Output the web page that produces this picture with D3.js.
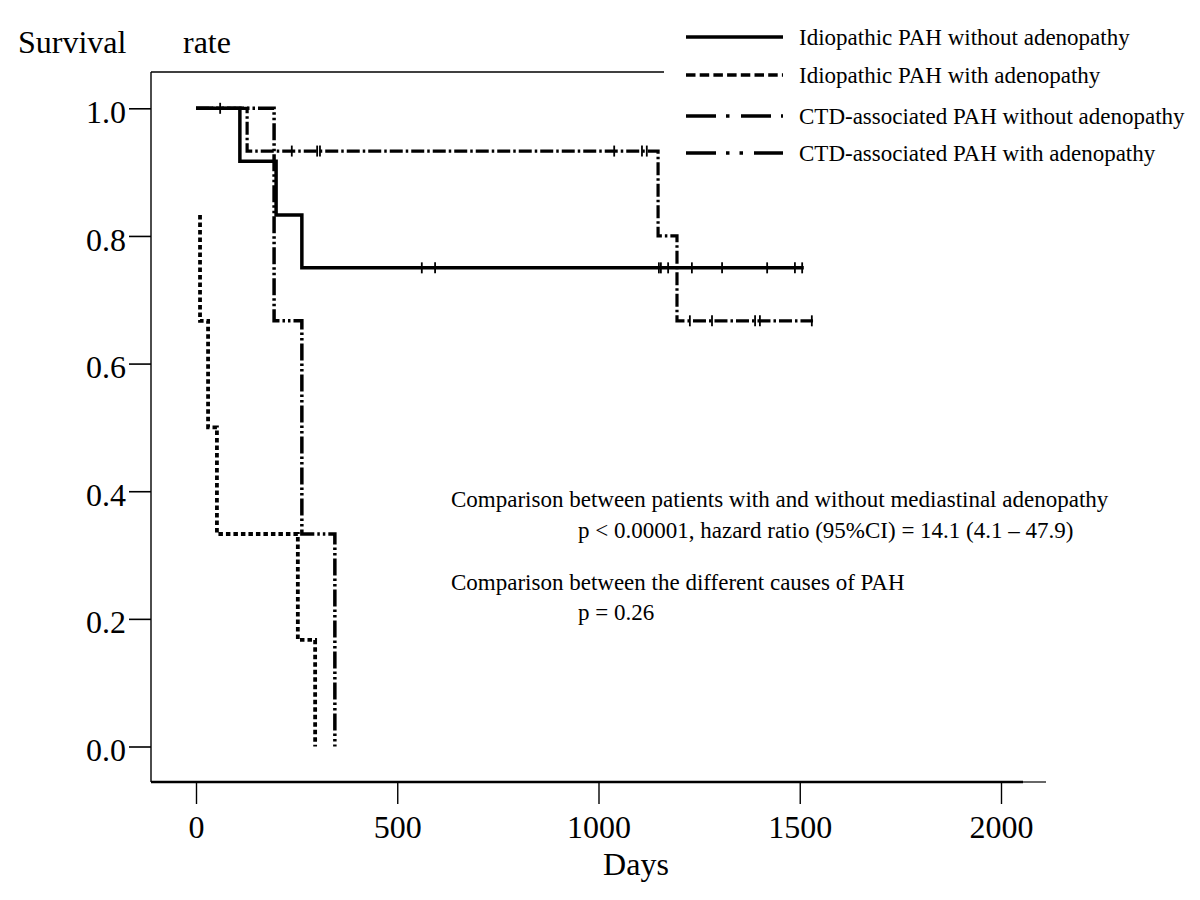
<!DOCTYPE html>
<html><head><meta charset="utf-8">
<script src="https://cdn.jsdelivr.net/npm/d3@7"></script>
<style>
body{margin:0;background:#fff}
svg{display:block}
text{font-family:"Liberation Serif","Times New Roman",Times,serif;fill:#000}
</style>
</head><body>
<svg id="chart" width="1200" height="900"></svg>
<script>
// ---------- DATA ----------
const seriesNames = [
  "Idiopathic PAH without adenopathy",
  "Idiopathic PAH with adenopathy",
  "CTD-associated PAH without adenopathy",
  "CTD-associated PAH with adenopathy"
];
// step curves: day of each change and survival from that day on (last entry = end of follow-up)
const idioNoAdenoDays = [0, 109, 199, 263, 1510];
const idioNoAdenoSurv = [1.0, 0.917, 0.833, 0.75, 0.75];
const idioNoAdenoCensor = [60, 561, 594, 1150, 1155, 1173, 1232, 1307, 1419, 1488, 1506];

const idioAdenoDays = [10, 10, 30, 52, 253, 296];
const idioAdenoSurv = [0.833, 0.667, 0.5, 0.333, 0.167, 0.0];
const idioAdenoCensor = [];

const ctdNoAdenoDays = [0, 127, 1148, 1195, 1533];
const ctdNoAdenoSurv = [1.0, 0.933, 0.8, 0.667, 0.667];
const ctdNoAdenoCensor = [238, 301, 308, 1039, 1108, 1120, 1227, 1282, 1389, 1401, 1530];

const ctdAdenoDays = [0, 194, 263, 345];
const ctdAdenoSurv = [1.0, 0.667, 0.333, 0.0];
const ctdAdenoCensor = [];

const yTicks = [0, 0.2, 0.4, 0.6, 0.8, 1.0];
const xTicks = [0, 500, 1000, 1500, 2000];

const yTitle = ["Survival", "rate"];
const xTitle = "Days";
const notes = [
  "Comparison between patients with and without mediastinal adenopathy",
  "p < 0.00001, hazard ratio (95%CI) = 14.1 (4.1 \u2013 47.9)",
  "Comparison between the different causes of PAH",
  "p = 0.26"
];

// ---------- STYLE ----------
const curveDash = ["none", "4.5,3", "13,3,2.5,3", "17,3,2.5,3,2.5,3"];
const curveWidth = [3.5, 3.8, 3.2, 3.5];
const legendDash = ["none", "9.5,4.2", "30,10,3.5,11.5", "30,10,3.5,10,3.5,11"];

const svg = d3.select("#chart");
const x = d3.scaleLinear().domain([0, 2000]).range([196, 1001]);
const y = d3.scaleLinear().domain([0, 1]).range([746.5, 108.3]);

const frameL = 151, frameT = 72, frameB = 782;

// frame
svg.append("line").attr("x1", frameL).attr("x2", frameL).attr("y1", frameT).attr("y2", frameB)
  .attr("stroke", "#000").attr("stroke-width", 1.4);
svg.append("line").attr("x1", frameL).attr("x2", 664).attr("y1", frameT).attr("y2", frameT)
  .attr("stroke", "#000").attr("stroke-width", 1.3);
svg.append("line").attr("x1", frameL).attr("x2", 1023).attr("y1", frameB).attr("y2", frameB)
  .attr("stroke", "#000").attr("stroke-width", 2.6);
svg.append("line").attr("x1", 1023).attr("x2", 1046).attr("y1", frameB).attr("y2", frameB)
  .attr("stroke", "#000").attr("stroke-width", 1.2);

// y axis
const gy = svg.append("g").attr("transform", `translate(${frameL},0)`)
  .call(d3.axisLeft(y).tickValues(yTicks).tickFormat(d3.format(".1f")).tickSize(22).tickPadding(3));
gy.select(".domain").remove();
gy.selectAll(".tick line").attr("stroke", "#000").attr("stroke-width", 1.6);
gy.selectAll(".tick text").attr("font-size", 32).attr("dy", "0.44em")
  .style("font-family", '"Liberation Serif","Times New Roman",serif');

// x axis
const gx = svg.append("g").attr("transform", `translate(0,${frameB})`)
  .call(d3.axisBottom(x).tickValues(xTicks).tickFormat(d3.format("d")).tickSize(22).tickPadding(11));
gx.select(".domain").remove();
gx.selectAll(".tick line").attr("stroke", "#000").attr("stroke-width", 1.4);
gx.selectAll(".tick text").attr("font-size", 32)
  .style("font-family", '"Liberation Serif","Times New Roman",serif');

// titles
svg.append("text").attr("x", 18).attr("y", 53).attr("font-size", 32).text(yTitle[0]);
svg.append("text").attr("x", 183).attr("y", 53).attr("font-size", 32).text(yTitle[1]);
svg.append("text").attr("x", 636).attr("y", 875).attr("font-size", 32).attr("text-anchor", "middle").text(xTitle);

// curves
const series = [
  {days: idioNoAdenoDays, surv: idioNoAdenoSurv, censor: idioNoAdenoCensor},
  {days: idioAdenoDays, surv: idioAdenoSurv, censor: idioAdenoCensor},
  {days: ctdNoAdenoDays, surv: ctdNoAdenoSurv, censor: ctdNoAdenoCensor},
  {days: ctdAdenoDays, surv: ctdAdenoSurv, censor: ctdAdenoCensor}
];
const line = d3.line().x(d => x(d[0])).y(d => y(d[1])).curve(d3.curveStepAfter);
function survAt(s, t) {
  let v = s.surv[0];
  for (let i = 0; i < s.days.length; i++) if (s.days[i] <= t) v = s.surv[i];
  return v;
}
const drawOrder = [3, 2, 1, 0];
drawOrder.forEach(i => {
  const s = series[i];
  const pts = s.days.map((d, k) => [d, s.surv[k]]);
  svg.append("path").attr("d", line(pts)).attr("fill", "none").attr("stroke", "#000")
    .attr("stroke-width", curveWidth[i]).attr("stroke-dasharray", curveDash[i] === "none" ? null : curveDash[i]);
  svg.append("g").selectAll("line").data(s.censor).join("line")
    .attr("x1", d => x(d)).attr("x2", d => x(d))
    .attr("y1", d => y(survAt(s, d)) - 5.5).attr("y2", d => y(survAt(s, d)) + 5.5)
    .attr("stroke", "#000").attr("stroke-width", 1.8);
});

// legend
const legY = [37, 75, 116, 153];
seriesNames.forEach((n, i) => {
  svg.append("line").attr("x1", 686).attr("x2", 783).attr("y1", legY[i]).attr("y2", legY[i])
    .attr("stroke", "#000").attr("stroke-width", 3.5)
    .attr("stroke-dasharray", legendDash[i] === "none" ? null : legendDash[i]);
  svg.append("text").attr("x", 799).attr("y", legY[i] + 8).attr("font-size", 23).text(n);
});

// annotations
const noteX = [451, 578, 451, 578];
const noteY = [507, 538, 590, 620];
notes.forEach((t, i) => {
  svg.append("text").attr("x", noteX[i]).attr("y", noteY[i]).attr("font-size", 23).text(t);
});
</script>
</body></html>
